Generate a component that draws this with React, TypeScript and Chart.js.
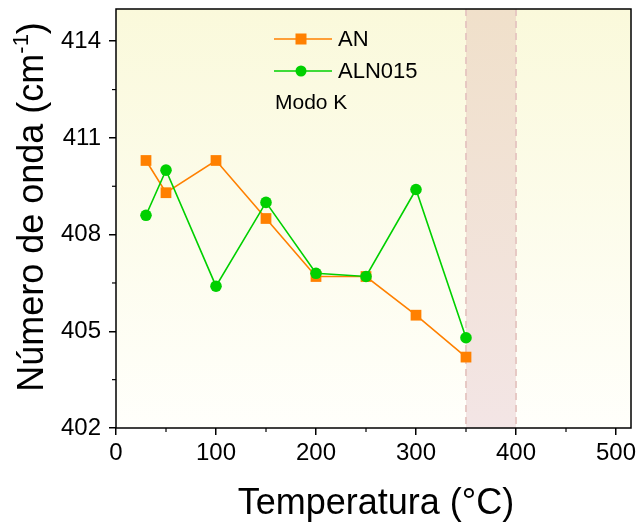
import React, { useEffect, useRef } from 'react';
import { Chart, registerables } from 'chart.js';

Chart.register(...registerables);

const temperatures = [30, 50, 100, 150, 200, 250, 300, 350];
const anValues = [410.3, 409.3, 410.3, 408.5, 406.7, 406.7, 405.5, 404.2];
const aln015Values = [408.6, 410.0, 406.4, 409.0, 406.8, 406.7, 409.4, 404.8];
const seriesNames = ['AN', 'ALN015'];
const xTicks = [0, 100, 200, 300, 400, 500];
const xMinorTicks = [50, 150, 250, 350, 450];
const yTicks = [402, 405, 408, 411, 414];
const yMinorTicks = [403.5, 406.5, 409.5, 412.5];
const bandRange = [350, 400];
const annotationText = 'Modo K';
const xTitle = 'Temperatura (°C)';
const yTitleMain = 'Número de onda (cm';
const yTitleSup = '-1';
const yTitleEnd = ')';

const FONT = '"Liberation Sans", Arial, sans-serif';
const ORANGE = '#ff8000';
const GREEN = '#00d000';

const decorPlugin = {
  id: 'decor',
  beforeDraw(chart: any) {
    const { ctx, chartArea: a } = chart;
    ctx.save();
    const g = ctx.createLinearGradient(0, a.top, 0, a.bottom);
    g.addColorStop(0, 'rgb(250,249,219)');
    g.addColorStop(1, 'rgb(255,255,251)');
    ctx.fillStyle = g;
    ctx.fillRect(a.left, a.top, a.right - a.left, a.bottom - a.top);
    ctx.restore();
  },
  beforeDatasetsDraw(chart: any) {
    const { ctx, chartArea: a, scales } = chart;
    const x0 = scales.x.getPixelForValue(bandRange[0]);
    const x1 = scales.x.getPixelForValue(bandRange[1]);
    ctx.save();
    const g = ctx.createLinearGradient(0, a.top, 0, a.bottom);
    g.addColorStop(0, 'rgb(240,224,202)');
    g.addColorStop(1, 'rgb(243,229,229)');
    ctx.fillStyle = g;
    ctx.fillRect(x0, a.top, x1 - x0, a.bottom - a.top);
    ctx.strokeStyle = 'rgba(228,196,192,0.9)';
    ctx.lineWidth = 2;
    ctx.setLineDash([7, 5]);
    [x0, x1].forEach((x) => {
      ctx.beginPath();
      ctx.moveTo(x, a.top);
      ctx.lineTo(x, a.bottom);
      ctx.stroke();
    });
    ctx.restore();
  },
  afterDraw(chart: any) {
    const { ctx, chartArea: a, scales } = chart;
    ctx.save();
    ctx.strokeStyle = '#000';
    ctx.lineWidth = 1.5;
    ctx.strokeRect(a.left, a.top, a.right - a.left, a.bottom - a.top);
    ctx.lineWidth = 1.2;
    xMinorTicks.forEach((v) => {
      const x = scales.x.getPixelForValue(v);
      ctx.beginPath();
      ctx.moveTo(x, a.bottom);
      ctx.lineTo(x, a.bottom + 4);
      ctx.stroke();
    });
    yMinorTicks.forEach((v) => {
      const y = scales.y.getPixelForValue(v);
      ctx.beginPath();
      ctx.moveTo(a.left, y);
      ctx.lineTo(a.left - 4, y);
      ctx.stroke();
    });
    ctx.fillStyle = '#000';
    ctx.font = `36px ${FONT}`;
    ctx.textAlign = 'center';
    ctx.textBaseline = 'alphabetic';
    ctx.fillText(xTitle, 376, 514);
    ctx.save();
    ctx.translate(43, 207);
    ctx.rotate(-Math.PI / 2);
    ctx.textAlign = 'left';
    ctx.font = `36px ${FONT}`;
    const w1 = ctx.measureText(yTitleMain).width;
    const w3 = ctx.measureText(yTitleEnd).width;
    ctx.font = `22px ${FONT}`;
    const w2 = ctx.measureText(yTitleSup).width;
    const total = w1 + w2 + w3;
    let sx = -total / 2;
    ctx.font = `36px ${FONT}`;
    ctx.fillText(yTitleMain, sx, 0);
    sx += w1;
    ctx.font = `22px ${FONT}`;
    ctx.fillText(yTitleSup, sx, -15);
    sx += w2;
    ctx.font = `36px ${FONT}`;
    ctx.fillText(yTitleEnd, sx, 0);
    ctx.restore();
    const items = [
      { name: seriesNames[0], color: ORANGE, style: 'rect', y: 39 },
      { name: seriesNames[1], color: GREEN, style: 'circle', y: 71 },
    ];
    items.forEach((it) => {
      ctx.strokeStyle = it.color;
      ctx.lineWidth = 1.6;
      ctx.beginPath();
      ctx.moveTo(274, it.y);
      ctx.lineTo(332, it.y);
      ctx.stroke();
      ctx.fillStyle = it.color;
      if (it.style === 'rect') {
        ctx.fillRect(301 - 5.5, it.y - 5.5, 11, 11);
      } else {
        ctx.beginPath();
        ctx.arc(301, it.y, 5.5, 0, Math.PI * 2);
        ctx.fill();
      }
      ctx.fillStyle = '#000';
      ctx.font = `22px ${FONT}`;
      ctx.textAlign = 'left';
      ctx.textBaseline = 'middle';
      ctx.fillText(it.name, 338, it.y + 1);
    });
    ctx.fillStyle = '#000';
    ctx.font = `21px ${FONT}`;
    ctx.textAlign = 'left';
    ctx.textBaseline = 'middle';
    ctx.fillText(annotationText, 275, 103);
    ctx.restore();
  },
};

export default function App() {
  const ref = useRef<HTMLCanvasElement>(null);
  useEffect(() => {
    document.body.style.margin = '0';
    const canvas = ref.current!;
    const chart = new Chart(canvas, {
      type: 'line',
      data: {
        datasets: [
          {
            label: seriesNames[0],
            data: temperatures.map((t, i) => ({ x: t, y: anValues[i] })),
            borderColor: ORANGE,
            backgroundColor: ORANGE,
            borderWidth: 1.6,
            pointStyle: 'rect',
            pointRadius: 7.6,
            pointHoverRadius: 7.6,
            pointBorderWidth: 0,
            order: 1,
          },
          {
            label: seriesNames[1],
            data: temperatures.map((t, i) => ({ x: t, y: aln015Values[i] })),
            borderColor: GREEN,
            backgroundColor: GREEN,
            borderWidth: 1.6,
            pointStyle: 'circle',
            pointRadius: 5.8,
            pointHoverRadius: 5.8,
            pointBorderWidth: 0,
            order: 0,
          },
        ],
      },
      options: {
        responsive: false,
        animation: false,
        layout: { padding: { top: 9, right: 10, left: 0, bottom: 0 } },
        plugins: { legend: { display: false }, tooltip: { enabled: false } },
        scales: {
          x: {
            type: 'linear',
            min: 0,
            max: 515,
            afterFit: (s: any) => { s.height = 94; s.paddingLeft = 0; s.paddingRight = 0; },
            afterBuildTicks: (s: any) => { s.ticks = xTicks.map((v) => ({ value: v })); },
            border: { display: false },
            grid: { drawOnChartArea: false, drawTicks: true, tickLength: 7, color: '#000', lineWidth: 1.5 },
            ticks: { color: '#000', font: { family: FONT, size: 24 }, padding: 4, maxRotation: 0 },
          },
          y: {
            type: 'linear',
            min: 402,
            max: 415,
            afterFit: (s: any) => { s.width = 116; s.paddingTop = 0; s.paddingBottom = 0; },
            afterBuildTicks: (s: any) => { s.ticks = yTicks.map((v) => ({ value: v })); },
            border: { display: false },
            grid: { drawOnChartArea: false, drawTicks: true, tickLength: 7, color: '#000', lineWidth: 1.5 },
            ticks: { color: '#000', font: { family: FONT, size: 24 }, padding: 8 },
          },
        },
      },
      plugins: [decorPlugin],
    });
    return () => chart.destroy();
  }, []);
  return <canvas ref={ref} width={641} height={522} style={{ display: 'block', width: 641, height: 522 }} />;
}
